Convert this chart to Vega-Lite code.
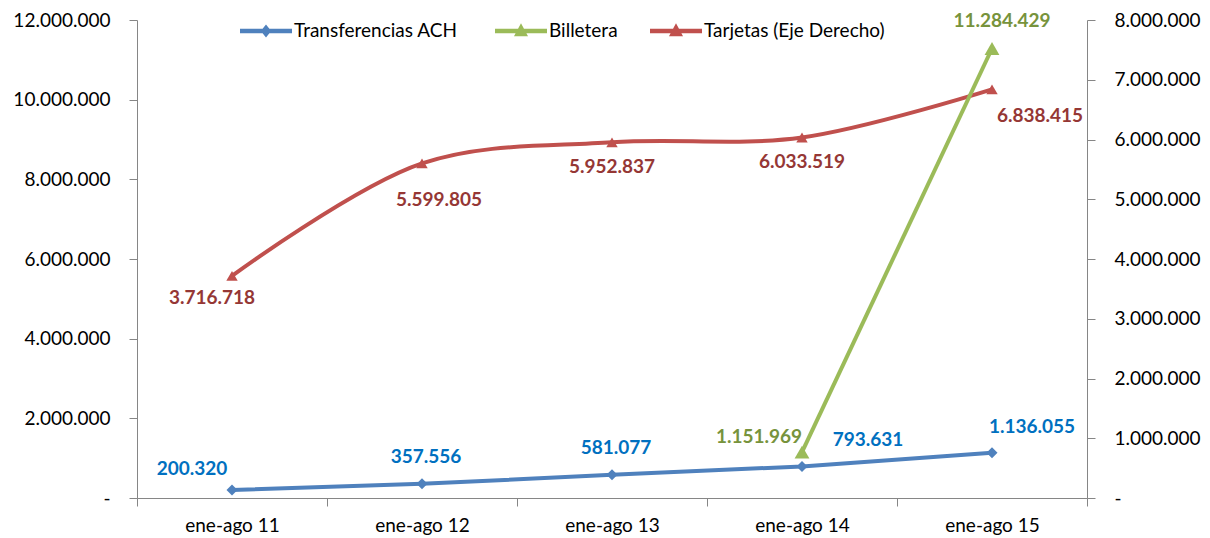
{
  "$schema": "https://vega.github.io/schema/vega-lite/v6.json",
  "width": 950,
  "height": 478,
  "autosize": "none",
  "padding": {"left": 137, "top": 20, "right": 123, "bottom": 40},
  "background": "white",
  "config": {
    "locale": {"number": {"decimal": ",", "thousands": ".", "grouping": [3], "currency": ["$", ""]}},
    "view": {"stroke": null},
    "font": "Lato",
    "axis": {"grid": false, "domainColor": "#868686", "tickColor": "#868686", "domainWidth": 1, "tickWidth": 1, "labelFont": "Lato", "labelFontSize": 19, "labelColor": "#000000", "title": null, "tickSize": 8},
    "legend": {"labelFont": "Lato", "labelFontSize": 19, "labelColor": "#000000", "labelLimit": 400, "title": null, "orient": "none", "direction": "horizontal", "symbolOpacity": 1, "symbolSize": 2704, "symbolStrokeWidth": 0, "labelOffset": 2, "padding": 0}
  },
  "data": {
    "values": [
      {"periodo": "ene-ago 11", "serie": "Transferencias ACH", "valor": 200320},
      {"periodo": "ene-ago 12", "serie": "Transferencias ACH", "valor": 357556},
      {"periodo": "ene-ago 13", "serie": "Transferencias ACH", "valor": 581077},
      {"periodo": "ene-ago 14", "serie": "Transferencias ACH", "valor": 793631},
      {"periodo": "ene-ago 15", "serie": "Transferencias ACH", "valor": 1136055},
      {"periodo": "ene-ago 14", "serie": "Billetera", "valor": 1151969},
      {"periodo": "ene-ago 15", "serie": "Billetera", "valor": 11284429},
      {"periodo": "ene-ago 11", "serie": "Tarjetas (Eje Derecho)", "valor": 3716718},
      {"periodo": "ene-ago 12", "serie": "Tarjetas (Eje Derecho)", "valor": 5599805},
      {"periodo": "ene-ago 13", "serie": "Tarjetas (Eje Derecho)", "valor": 5952837},
      {"periodo": "ene-ago 14", "serie": "Tarjetas (Eje Derecho)", "valor": 6033519},
      {"periodo": "ene-ago 15", "serie": "Tarjetas (Eje Derecho)", "valor": 6838415}
    ]
  },
  "encoding": {
    "x": {
      "field": "periodo",
      "type": "ordinal",
      "sort": ["ene-ago 11", "ene-ago 12", "ene-ago 13", "ene-ago 14", "ene-ago 15"],
      "scale": {"type": "band", "paddingInner": 0, "paddingOuter": 0},
      "bandPosition": 0.5,
      "axis": {"orient": "bottom", "tickBand": "extent", "labelAngle": 0, "labelPadding": 10, "labelBaseline": "top"}
    }
  },
  "layer": [
    {
      "transform": [{"filter": "datum.serie == 'Tarjetas (Eje Derecho)'"}],
      "encoding": {
        "y": {
          "field": "valor",
          "type": "quantitative",
          "scale": {"domain": [0, 8000000], "nice": false, "zero": true},
          "axis": {"orient": "right", "values": [0, 1000000, 2000000, 3000000, 4000000, 5000000, 6000000, 7000000, 8000000], "format": ",d", "labelExpr": "datum.value == 0 ? '-' : datum.label", "labelPadding": 19}
        }
      },
      "layer": [
        {"mark": {"type": "line", "color": "#C0504D", "strokeWidth": 4, "interpolate": "catmull-rom"}, "encoding": {}},
        {"mark": {"type": "point", "shape": "triangle-up", "filled": true, "opacity": 1, "color": "#C0504D", "size": 130}, "encoding": {}},
        {"transform": [{"filter": "datum.periodo == 'ene-ago 11'"}], "mark": {"type": "text", "fontWeight": "bold", "fontSize": 19, "color": "#953735", "dx": -20, "dy": 22, "baseline": "middle"}, "encoding": {"text": {"field": "valor", "type": "quantitative", "format": ",d"}}},
        {"transform": [{"filter": "datum.periodo == 'ene-ago 12'"}], "mark": {"type": "text", "fontWeight": "bold", "fontSize": 19, "color": "#953735", "dx": 17, "dy": 37, "baseline": "middle"}, "encoding": {"text": {"field": "valor", "type": "quantitative", "format": ",d"}}},
        {"transform": [{"filter": "datum.periodo == 'ene-ago 13' || datum.periodo == 'ene-ago 14'"}], "mark": {"type": "text", "fontWeight": "bold", "fontSize": 19, "color": "#953735", "dx": 0, "dy": 25, "baseline": "middle"}, "encoding": {"text": {"field": "valor", "type": "quantitative", "format": ",d"}}},
        {"transform": [{"filter": "datum.periodo == 'ene-ago 15'"}], "mark": {"type": "text", "fontWeight": "bold", "fontSize": 19, "color": "#953735", "dx": 48, "dy": 27, "baseline": "middle"}, "encoding": {"text": {"field": "valor", "type": "quantitative", "format": ",d"}}}
      ]
    },
    {
      "transform": [{"filter": "datum.serie != 'Tarjetas (Eje Derecho)'"}],
      "encoding": {
        "y": {
          "field": "valor",
          "type": "quantitative",
          "scale": {"domain": [0, 12000000], "nice": false, "zero": true},
          "axis": {"orient": "left", "values": [0, 2000000, 4000000, 6000000, 8000000, 10000000, 12000000], "format": ",d", "labelExpr": "datum.value == 0 ? '-' : datum.label", "labelPadding": 19}
        }
      },
      "layer": [
        {"transform": [{"filter": "datum.serie == 'Transferencias ACH'"}], "mark": {"type": "line", "color": "#4F81BD", "strokeWidth": 4}, "encoding": {}},
        {"transform": [{"filter": "datum.serie == 'Billetera'"}], "mark": {"type": "line", "color": "#9BBB59", "strokeWidth": 4}, "encoding": {}},
        {"transform": [{"filter": "datum.serie == 'Transferencias ACH'"}], "mark": {"type": "point", "shape": "diamond", "filled": true, "opacity": 1, "color": "#4F81BD", "size": 121}, "encoding": {}},
        {"transform": [{"filter": "datum.serie == 'Billetera'"}], "mark": {"type": "point", "shape": "triangle-up", "filled": true, "opacity": 1, "color": "#9BBB59", "size": 220}, "encoding": {}},
        {
          "transform": [{"filter": "datum.serie == 'Transferencias ACH'"}],
          "mark": {"type": "point", "filled": true, "opacity": 1, "size": 0},
          "encoding": {
            "color": {"field": "serie", "type": "nominal", "scale": {"range": ["#4F81BD"]},
              "legend": {"legendX": 103, "legendY": -15, "encode": {"symbols": {"update": {"opacity": {"value": 1}, "fillOpacity": {"value": 1}}}}}},
            "shape": {"field": "serie", "type": "nominal", "scale": {"range": ["M-1,-0.085H1V0.085H-1Z M0,-0.25L0.2,0L0,0.25L-0.2,0Z"]}}
          }
        },
        {
          "transform": [{"filter": "datum.serie == 'Billetera'"}],
          "mark": {"type": "point", "filled": true, "opacity": 1, "size": 0},
          "encoding": {
            "color": {"field": "serie", "type": "nominal", "scale": {"range": ["#9BBB59"]},
              "legend": {"legendX": 358, "legendY": -15, "encode": {"symbols": {"update": {"opacity": {"value": 1}, "fillOpacity": {"value": 1}}}}}},
            "shape": {"field": "serie", "type": "nominal", "scale": {"range": ["M-1,-0.085H1V0.085H-1Z M0,-0.3L0.27,0.2H-0.27Z"]}}
          }
        },
        {
          "data": {"values": [{"serie": "Tarjetas (Eje Derecho)"}]},
          "mark": {"type": "point", "filled": true, "opacity": 1, "size": 0},
          "encoding": {
            "x": {"value": 0},
            "y": {"value": 0},
            "color": {"field": "serie", "type": "nominal", "scale": {"range": ["#C0504D"]},
              "legend": {"legendX": 513, "legendY": -15, "encode": {"symbols": {"update": {"opacity": {"value": 1}, "fillOpacity": {"value": 1}}}}}},
            "shape": {"field": "serie", "type": "nominal", "scale": {"range": ["M-1,-0.085H1V0.085H-1Z M0,-0.3L0.27,0.2H-0.27Z"]}}
          }
        },
        {"transform": [{"filter": "datum.serie == 'Transferencias ACH' && datum.periodo == 'ene-ago 11'"}], "mark": {"type": "text", "fontWeight": "bold", "fontSize": 19, "color": "#0070C0", "dx": -40, "dy": -21, "baseline": "middle"}, "encoding": {"text": {"field": "valor", "type": "quantitative", "format": ",d"}}},
        {"transform": [{"filter": "datum.serie == 'Transferencias ACH' && (datum.periodo == 'ene-ago 12' || datum.periodo == 'ene-ago 13')"}], "mark": {"type": "text", "fontWeight": "bold", "fontSize": 19, "color": "#0070C0", "dx": 4, "dy": -27, "baseline": "middle"}, "encoding": {"text": {"field": "valor", "type": "quantitative", "format": ",d"}}},
        {"transform": [{"filter": "datum.serie == 'Transferencias ACH' && datum.periodo == 'ene-ago 14'"}], "mark": {"type": "text", "fontWeight": "bold", "fontSize": 19, "color": "#0070C0", "dx": 66, "dy": -26, "baseline": "middle"}, "encoding": {"text": {"field": "valor", "type": "quantitative", "format": ",d"}}},
        {"transform": [{"filter": "datum.serie == 'Transferencias ACH' && datum.periodo == 'ene-ago 15'"}], "mark": {"type": "text", "fontWeight": "bold", "fontSize": 19, "color": "#0070C0", "dx": 40, "dy": -26, "baseline": "middle"}, "encoding": {"text": {"field": "valor", "type": "quantitative", "format": ",d"}}},
        {"transform": [{"filter": "datum.serie == 'Billetera' && datum.periodo == 'ene-ago 14'"}], "mark": {"type": "text", "fontWeight": "bold", "fontSize": 19, "color": "#77933C", "dx": -43, "dy": -15, "baseline": "middle"}, "encoding": {"text": {"field": "valor", "type": "quantitative", "format": ",d"}}},
        {"transform": [{"filter": "datum.serie == 'Billetera' && datum.periodo == 'ene-ago 15'"}], "mark": {"type": "text", "fontWeight": "bold", "fontSize": 19, "color": "#77933C", "dx": 10, "dy": -28, "baseline": "middle"}, "encoding": {"text": {"field": "valor", "type": "quantitative", "format": ",d"}}}
      ],
      "resolve": {"scale": {"color": "independent", "shape": "independent"}, "legend": {"color": "independent", "shape": "independent"}}
    }
  ],
  "resolve": {"scale": {"y": "independent", "color": "independent", "shape": "independent"}}
}
